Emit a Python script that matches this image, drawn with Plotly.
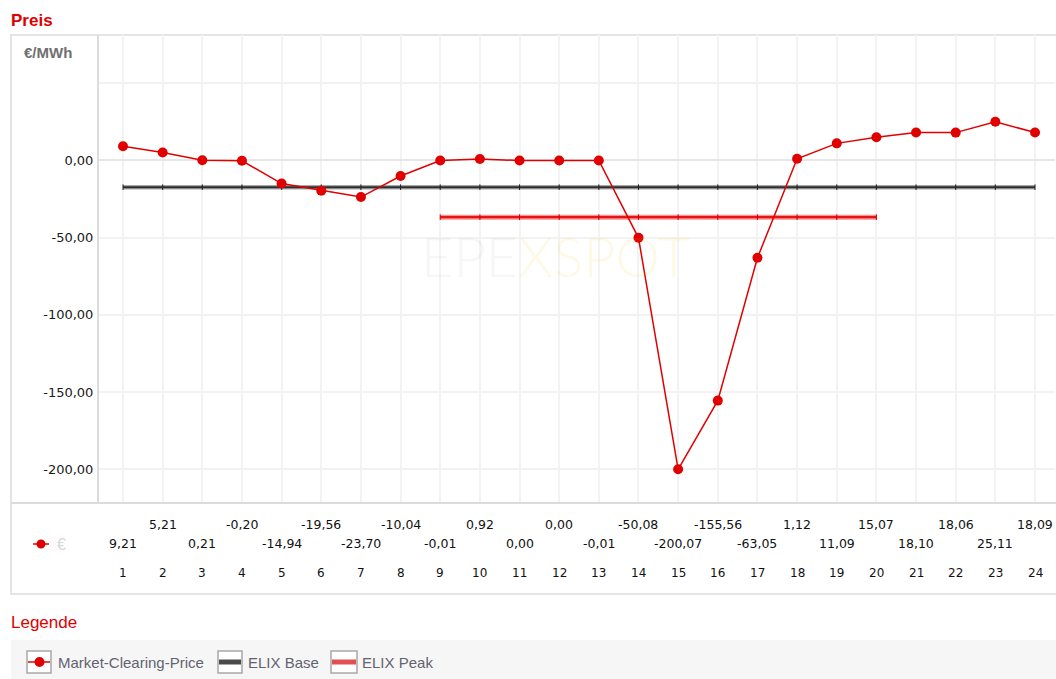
import plotly.graph_objects as go

# ---- data -------------------------------------------------------------
HOURS = list(range(1, 25))
PRICES = [9.21, 5.21, 0.21, -0.20, -14.94, -19.56, -23.70, -10.04,
          -0.01, 0.92, 0.00, 0.00, -0.01, -50.08, -200.07, -155.56,
          -63.05, 1.12, 11.09, 15.07, 18.10, 18.06, 25.11, 18.09]
ELIX_BASE = -17.29
ELIX_PEAK = -36.72
PEAK_HOURS = list(range(9, 21))
Y_TICKS = [-200, -150, -100, -50, 0, 50]
Y_TICK_TEXT = ["-200,00", "-150,00", "-100,00", "-50,00", "0,00", ""]
LEGEND_ITEMS = ["Market-Clearing-Price", "ELIX Base", "ELIX Peak"]

W, H = 1056, 679
RED = "#e00000"
NUM_FONT = "DejaVu Sans"
TXT_FONT = "Liberation Sans, Arial, sans-serif"


def py(y):
    """pixel row -> paper y"""
    return 1 - y / H


def px(x):
    """pixel column -> paper x"""
    return x / W


def fmt(v):
    return f"{v:.2f}".replace(".", ",")


fig = go.Figure()

# ELIX Base (all hours)
fig.add_trace(go.Scatter(
    x=HOURS, y=[ELIX_BASE] * len(HOURS), mode="lines",
    line=dict(color="rgba(60,60,60,0.45)", width=4.5),
    hoverinfo="skip", showlegend=False))
fig.add_trace(go.Scatter(
    x=HOURS, y=[ELIX_BASE] * len(HOURS), mode="lines+markers",
    line=dict(color="#2e2e2e", width=2),
    marker=dict(symbol="line-ns", size=4, line=dict(color="#222222", width=1)),
    name="ELIX Base", hoverinfo="skip", showlegend=False))

# ELIX Peak (hours 9-20)
fig.add_trace(go.Scatter(
    x=PEAK_HOURS, y=[ELIX_PEAK] * len(PEAK_HOURS), mode="lines",
    line=dict(color="rgba(240,40,40,0.5)", width=5),
    hoverinfo="skip", showlegend=False))
fig.add_trace(go.Scatter(
    x=PEAK_HOURS, y=[ELIX_PEAK] * len(PEAK_HOURS), mode="lines+markers",
    line=dict(color="#e81414", width=2.2),
    marker=dict(symbol="line-ns", size=4, line=dict(color="#d00000", width=1)),
    name="ELIX Peak", hoverinfo="skip", showlegend=False))

# Market clearing price
fig.add_trace(go.Scatter(
    x=HOURS, y=PRICES, mode="lines+markers",
    line=dict(color=RED, width=1.5),
    marker=dict(color=RED, size=10),
    name="Market-Clearing-Price", hoverinfo="skip", showlegend=False))

annotations = []

# titles
annotations.append(dict(x=px(9), y=py(20), xref="paper", yref="paper",
                        text="<b>Preis</b>", showarrow=False, xanchor="left", yanchor="middle",
                        font=dict(family=TXT_FONT, size=17, color="#dd0000")))
annotations.append(dict(x=px(22), y=py(53), xref="paper", yref="paper",
                        text="<b>€/MWh</b>", showarrow=False, xanchor="left", yanchor="middle",
                        font=dict(family=TXT_FONT, size=15, color="#707070")))
annotations.append(dict(x=px(9), y=py(622), xref="paper", yref="paper",
                        text="Legende", showarrow=False, xanchor="left", yanchor="middle",
                        font=dict(family=TXT_FONT, size=17, color="#dd0000")))

# watermark
annotations.append(dict(x=11.9, y=py(255), xref="x", yref="paper",
                        text="<span style='color:rgba(0,0,0,0.035)'>EPE</span>"
                             "<span style='color:rgba(235,200,0,0.10)'>XSPOT</span>",
                        showarrow=False, xanchor="center", yanchor="middle",
                        font=dict(family="Lato", size=56, weight=300)))
annotations.append(dict(x=11.96, y=py(302), xref="x", yref="paper",
                        text="EUROPEAN POWER EXCHANGE", showarrow=False,
                        xanchor="center", yanchor="middle",
                        font=dict(family="Lato", size=18, weight=300,
                                  color="rgba(0,0,0,0.03)")))

# value table under the chart
for h, v in zip(HOURS, PRICES):
    row_y = 524 if h % 2 == 0 else 543
    annotations.append(dict(x=h, y=py(row_y), xref="x", yref="paper",
                            text=fmt(v), showarrow=False, xanchor="center", yanchor="middle",
                            font=dict(family=NUM_FONT, size=12.5, color="#111111")))
    annotations.append(dict(x=h, y=py(573), xref="x", yref="paper",
                            text=str(h), showarrow=False, xanchor="center", yanchor="middle",
                            font=dict(family=NUM_FONT, size=12, color="#111111")))

annotations.append(dict(x=px(55), y=py(544), xref="paper", yref="paper",
                        text="€", showarrow=False, xanchor="left", yanchor="middle",
                        font=dict(family=TXT_FONT, size=16, color="#d8d8d8")))

# legend labels
legend_text_x = [56, 246, 360]
for name, lx in zip(LEGEND_ITEMS, legend_text_x):
    annotations.append(dict(x=px(lx), y=py(662), xref="paper", yref="paper",
                            text=name, showarrow=False, xanchor="left", yanchor="middle",
                            font=dict(family=TXT_FONT, size=15, color="#63636f")))

shapes = []
# outer frame and table separator
shapes.append(dict(type="rect", xref="paper", yref="paper",
                   x0=px(11), x1=px(1060), y0=py(594), y1=py(35),
                   line=dict(color="#dcdcdc", width=1.5), layer="below"))
shapes.append(dict(type="line", xref="paper", yref="paper",
                   x0=px(11), x1=px(1060), y0=py(503), y1=py(503),
                   line=dict(color="#dcdcdc", width=2), layer="above"))
# legend band
shapes.append(dict(type="rect", xref="paper", yref="paper",
                   x0=px(11), x1=px(1060), y0=py(681), y1=py(640),
                   fillcolor="#f6f6f6", line=dict(width=0), layer="below"))
# legend icon boxes
for x0, x1 in [(27, 51), (218, 242), (331, 357)]:
    shapes.append(dict(type="rect", xref="paper", yref="paper",
                       x0=px(x0), x1=px(x1), y0=py(673), y1=py(651),
                       fillcolor="white", line=dict(color="#a8a8a8", width=1.5), layer="above"))
shapes.append(dict(type="line", xref="paper", yref="paper",
                   x0=px(28), x1=px(50), y0=py(662), y1=py(662),
                   line=dict(color=RED, width=1.5), layer="above"))
shapes.append(dict(type="circle", xref="paper", yref="paper",
                   x0=px(34.5), x1=px(44.5), y0=py(667), y1=py(657),
                   fillcolor=RED, line=dict(width=0), layer="above"))
shapes.append(dict(type="line", xref="paper", yref="paper",
                   x0=px(219), x1=px(241), y0=py(662), y1=py(662),
                   line=dict(color="#4a4a4a", width=5), layer="above"))
shapes.append(dict(type="line", xref="paper", yref="paper",
                   x0=px(332), x1=px(356), y0=py(662), y1=py(662),
                   line=dict(color="#e05050", width=5), layer="above"))
# series key in the table
shapes.append(dict(type="line", xref="paper", yref="paper",
                   x0=px(33), x1=px(49), y0=py(544), y1=py(544),
                   line=dict(color=RED, width=1.5), layer="above"))
shapes.append(dict(type="circle", xref="paper", yref="paper",
                   x0=px(36.5), x1=px(45.5), y0=py(548.5), y1=py(539.5),
                   fillcolor=RED, line=dict(width=0), layer="above"))

fig.update_layout(
    width=W, height=H,
    margin=dict(l=0, r=0, t=0, b=0),
    paper_bgcolor="white", plot_bgcolor="white",
    showlegend=False,
    annotations=annotations,
    shapes=shapes,
    xaxis=dict(domain=[px(99), px(1055)], range=[0.3947, 24.504],
               tickvals=HOURS, showticklabels=False, ticks="",
               showgrid=True, gridcolor="#f3f3f3", gridwidth=1.5,
               zeroline=False, showline=False, fixedrange=True),
    yaxis=dict(domain=[py(503), py(35)], range=[-221.9, 81.3],
               tickvals=Y_TICKS, ticktext=Y_TICK_TEXT, ticks="",
               tickfont=dict(family=NUM_FONT, size=13, color="#1a1a1a"),
               ticklabelstandoff=1,
               showgrid=True, gridcolor="#f2f2f2", gridwidth=1.5,
               zeroline=True, zerolinecolor="#e6e6e6", zerolinewidth=2,
               showline=True, linecolor="#dcdcdc", linewidth=2, fixedrange=True),
)

fig.write_html("out.html")
